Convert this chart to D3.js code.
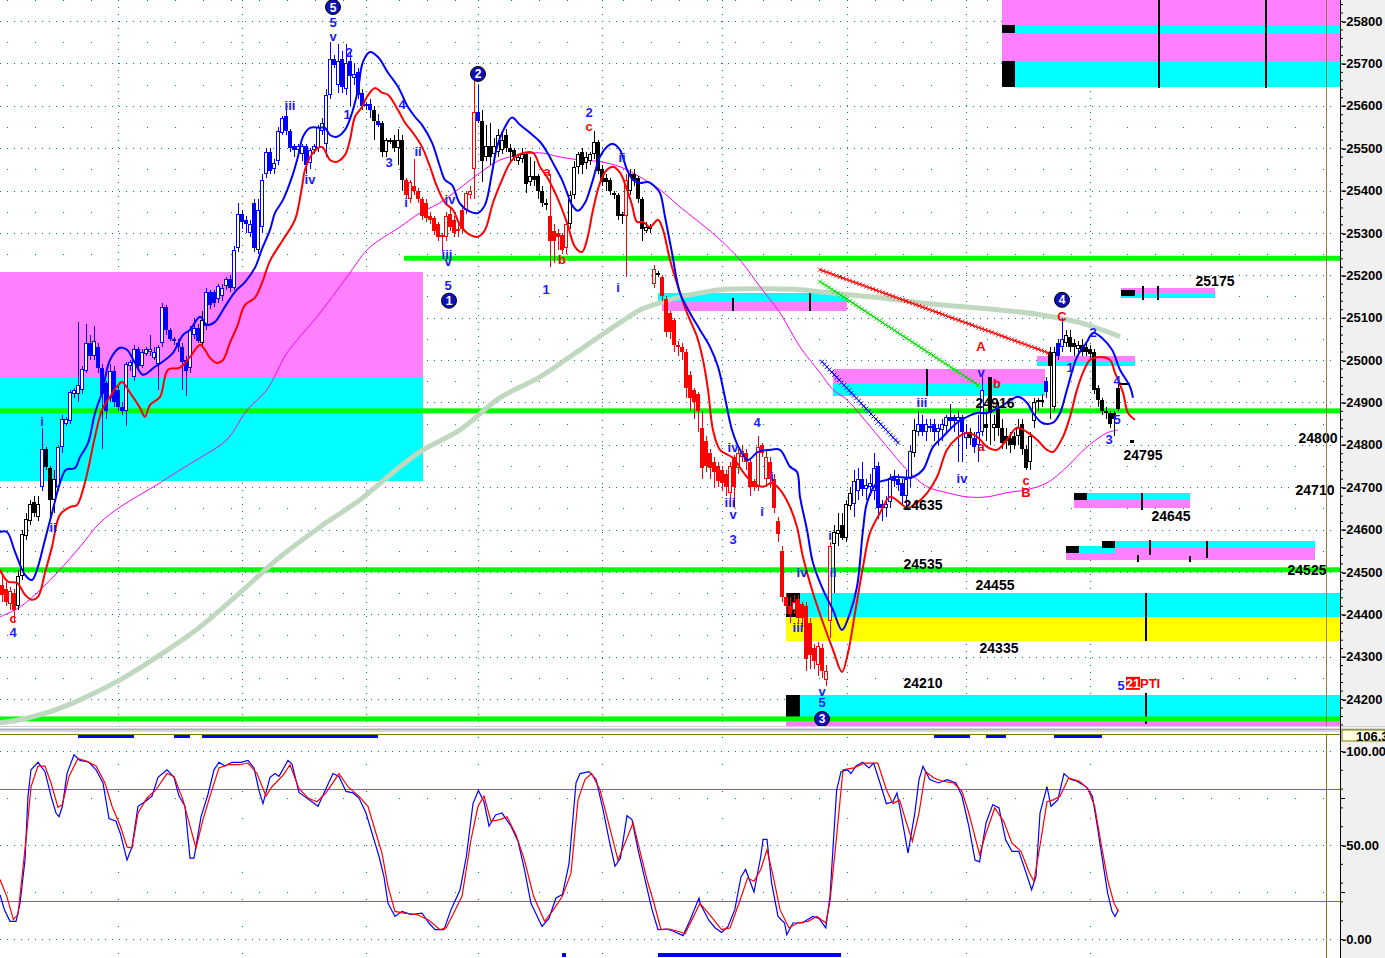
<!DOCTYPE html>
<html><head><meta charset="utf-8">
<script src="https://cdn.jsdelivr.net/npm/d3@7/dist/d3.min.js"></script>
<style>body{margin:0;background:#fff;overflow:hidden}svg{display:block;font-family:"Liberation Sans",Arial,sans-serif}</style>
</head><body><svg id="c" width="1385" height="958"></svg>
<script>
// ---------- DATA ----------
const openP=[24470,24460,24425,24450,24420,24490,24585,24620,24665,24630,
24700,24790,24745,24670,24700,24795,24850,24855,24920,24920,
24930,24975,25040,25010,25030,24980,24945,24910,24975,24930,
24890,24880,24985,24960,25025,24985,25015,25020,25005,24990,
25040,25125,25070,25050,25040,25030,25000,24980,25060,25075,
25040,25080,25160,25160,25145,25150,25175,25190,25170,25265,
25345,25330,25300,25370,25260,25315,25440,25490,25450,25470,
25535,25575,25540,25505,25495,25485,25505,25465,25495,25500,
25540,25510,25625,25710,25650,25710,25640,25705,25665,25680,
25630,25600,25605,25590,25565,25560,25490,25515,25520,25500,
25520,25425,25380,25410,25400,25380,25370,25340,25335,25320,
25295,25290,25345,25330,25310,25355,25355,25390,25450,25585,
25565,25480,25505,25485,25490,25495,25530,25500,25495,25470,
25475,25485,25420,25435,25435,25400,25370,25340,25305,25300,
25295,25265,25320,25390,25455,25490,25465,25470,25485,25515,
25450,25430,25425,25395,25390,25345,25340,25400,25440,25430,
25380,25305,25315,25180,25205,25195,25145,25110,25095,25035,
25030,25020,24965,24930,24920,24840,24810,24780,24760,24750,
24740,24730,24685,24770,24745,24770,24780,24760,24715,24700,
24800,24720,24760,24720,24620,24550,24440,24420,24410,24435,
24425,24420,24380,24320,24280,24320,24245,24385,24565,24590,
24610,24580,24655,24660,24690,24720,24695,24700,24690,24750,
24660,24650,24665,24725,24720,24710,24680,24720,24780,24830,
24850,24830,24840,24850,24830,24835,24845,24865,24865,24855,
24865,24815,24830,24815,24800,24830,24850,24960,24840,24885,
24840,24820,24815,24820,24820,24850,24790,24760,24855,24900,
24900,24950,25020,24890,25040,25030,25040,25055,25040,25025,
25035,25030,25025,25020,24935,24905,24880,24875,24875,24935];
const highP=[24490,24475,24465,24460,24505,24600,24640,24670,24680,24680,
24840,24795,24750,24740,24800,24870,24865,24930,24935,25090,
24985,25085,25060,25080,25040,24990,24950,24990,24985,24940,
24900,24995,25000,25035,25030,25025,25030,25060,25030,25035,
25135,25130,25075,25055,25050,25040,25010,25080,25100,25085,
25115,25170,25165,25165,25180,25180,25195,25200,25270,25370,
25355,25340,25330,25380,25380,25440,25500,25500,25475,25550,
25575,25590,25545,25510,25510,25510,25510,25500,25510,25555,
25570,25640,25750,25720,25745,25730,25745,25725,25700,25690,
25640,25610,25615,25600,25580,25565,25525,25525,25530,25545,
25530,25430,25425,25475,25405,25385,25380,25350,25340,25325,
25300,25350,25360,25340,25320,25365,25400,25410,25660,25650,
25590,25555,25560,25525,25545,25540,25545,25510,25500,25485,
25500,25490,25480,25470,25440,25410,25380,25440,25320,25310,
25300,25330,25400,25470,25490,25500,25490,25490,25540,25520,
25460,25440,25430,25400,25395,25350,25440,25450,25450,25435,
25385,25325,25320,25225,25210,25200,25150,25115,25100,25045,
25040,25025,24975,24935,24925,24880,24820,24790,24770,24760,
24750,24740,24760,24775,24790,24800,24790,24765,24720,24820,
24805,24790,24770,24730,24630,24560,24450,24440,24445,24445,
24430,24430,24390,24330,24335,24330,24280,24570,24610,24640,
24640,24670,24700,24740,24745,24760,24720,24730,24780,24760,
24670,24680,24730,24740,24730,24720,24740,24800,24860,24880,
24870,24860,24860,24860,24850,24860,24870,24895,24870,24880,
24870,24850,24840,24830,24870,24960,24880,24960,24870,24900,
24860,24840,24830,24830,24860,24860,24800,24830,24910,24910,
24920,24960,25030,25030,25050,25100,25070,25070,25050,25045,
25050,25040,25035,25025,24940,24910,24890,24880,24880,24950];
const lowP=[24430,24420,24410,24380,24410,24480,24575,24610,24630,24620,
24690,24740,24630,24640,24690,24780,24845,24850,24910,24900,
24920,24970,25000,25000,24970,24790,24860,24900,24890,24880,
24870,24845,24975,24950,24975,24980,25010,25010,25000,24930,
25030,25060,25045,25035,25020,24930,24915,24970,25050,25040,
25030,25070,25120,25125,25135,25140,25165,25160,25165,25255,
25310,25300,25290,25255,25250,25300,25430,25440,25440,25460,
25530,25530,25490,25480,25490,25470,25440,25450,25485,25490,
25530,25480,25615,25690,25630,25630,25625,25600,25650,25615,
25590,25590,25570,25520,25550,25480,25480,25510,25490,25460,
25400,25380,25370,25390,25370,25330,25325,25320,25295,25280,
25255,25280,25305,25290,25290,25300,25345,25380,25380,25560,
25420,25470,25460,25475,25480,25485,25490,25470,25470,25460,
25465,25395,25410,25410,25380,25360,25355,25220,25230,25260,
25250,25250,25310,25380,25440,25440,25450,25460,25475,25440,
25410,25400,25390,25380,25330,25320,25195,25390,25410,25370,
25280,25300,25300,25170,25195,25140,25055,25050,25020,25010,
25000,24910,24880,24860,24830,24720,24735,24720,24700,24700,
24690,24680,24670,24650,24730,24760,24740,24680,24690,24690,
24770,24700,24700,24640,24570,24430,24400,24380,24400,24380,
24370,24265,24270,24270,24255,24250,24230,24345,24450,24560,
24575,24570,24645,24630,24670,24680,24670,24680,24670,24625,
24620,24630,24650,24700,24690,24660,24650,24700,24770,24820,
24820,24810,24830,24810,24800,24810,24830,24840,24830,24760,
24760,24790,24800,24780,24760,24820,24810,24800,24810,24820,
24790,24790,24780,24790,24800,24775,24740,24740,24840,24880,
24890,24910,24860,24880,25000,25020,25030,25020,25010,25015,
25010,25010,25005,24920,24890,24870,24860,24840,24820,24880];
const closeP=[24445,24430,24455,24410,24490,24590,24625,24660,24640,24660,
24790,24748,24670,24720,24795,24860,24860,24925,24930,24940,
24978,25040,25010,25045,24980,24920,24880,24975,24900,24890,
24880,24990,24995,25025,24985,25020,25025,25025,25020,25030,
25125,25070,25050,25045,25030,24995,24975,25070,25075,25045,
25095,25160,25130,25135,25175,25170,25190,25170,25260,25345,
25325,25320,25320,25265,25355,25425,25490,25445,25465,25540,
25570,25540,25500,25495,25505,25505,25460,25495,25505,25550,
25560,25625,25710,25695,25705,25645,25700,25670,25675,25625,
25600,25605,25590,25565,25555,25490,25520,25520,25500,25520,
25425,25390,25420,25400,25380,25340,25335,25330,25305,25290,
25290,25340,25315,25300,25305,25310,25395,25400,25585,25565,
25470,25505,25480,25505,25530,25520,25500,25490,25480,25480,
25485,25415,25435,25425,25400,25370,25365,25280,25280,25290,
25260,25320,25390,25455,25485,25460,25480,25485,25515,25445,
25420,25420,25400,25390,25340,25340,25425,25440,25425,25380,
25310,25315,25310,25215,25200,25150,25065,25065,25035,25030,
25020,24935,24910,24900,24880,24745,24750,24745,24735,24715,
24710,24700,24750,24700,24780,24785,24760,24700,24700,24795,
24780,24770,24720,24650,24590,24440,24420,24400,24430,24390,
24390,24295,24305,24290,24325,24265,24265,24560,24595,24600,
24580,24660,24685,24715,24720,24695,24705,24710,24745,24650,
24650,24660,24720,24715,24705,24680,24720,24785,24835,24850,
24830,24850,24845,24830,24840,24850,24865,24855,24855,24865,
24830,24830,24815,24795,24830,24930,24840,24875,24850,24840,
24805,24810,24800,24800,24840,24790,24745,24820,24900,24905,
24905,24925,24985,25020,25010,25050,25060,25030,25030,25035,
25020,25020,25015,24930,24905,24880,24875,24850,24860,24885];
// candle colour runs: b = up trend (blue), k = neutral (black), r = down trend (red)
const toneRuns="r4 k6 b1 k3 b36 k1 b42 k1 b1 k6 r18 b1 k17 r5 k14 r1 k6 r1 k1 r43 k5 b15 k1 b13 k1 b3 k15 b1 k2 b2 k14";

// moving averages: [bar, price]
const blueMA=[[0,24594],[1.75,24594],[3.75,24547],[6.25,24493],[8,24481],[9.25,24505],[11.25,24576],[13,24639],[15,24710],[16.5,24741],[18.75,24745],[20,24771],[22,24804],[23.75,24875],[25.5,24923],[27.5,25000],[30,25029],[31.75,25024],[33.75,24993],[35.75,24965],[38.75,24984],[41.25,25000],[43.25,25017],[45.75,25059],[47.5,25071],[50,25102],[51.75,25083],[53.75,25090],[56.25,25126],[58.75,25161],[61.25,25184],[63.75,25218],[65.5,25262],[67.5,25307],[68.75,25347],[70.75,25378],[73,25432],[74.5,25480],[75.75,25527],[77.5,25548],[80,25548],[81.25,25548],[82.5,25531],[84.25,25527],[86.25,25543],[88,25583],[89.5,25638],[90.75,25704],[92.5,25727],[94.5,25715],[97,25678],[99.5,25645],[102,25597],[103.75,25574],[105.5,25555],[108,25513],[110,25456],[111.25,25425],[113,25413],[115,25369],[117.5,25350],[119.5,25347],[121.25,25366],[123,25442],[124.25,25503],[126.25,25550],[128,25572],[130,25555],[132.5,25536],[135,25515],[136.75,25491],[138.75,25456],[140.5,25425],[141.75,25395],[143,25366],[144.5,25352],[146.25,25371],[148,25418],[150,25480],[151.75,25503],[153.25,25510],[155,25496],[156.75,25449],[158.25,25425],[160,25418],[162,25420],[163.75,25409],[165,25394],[166.25,25338],[168,25253],[170,25158],[172.5,25111],[175,25071],[177.5,25031],[179.5,24984],[181.25,24911],[183,24835],[185,24788],[187,24764],[189.5,24783],[192.5,24788],[195,24788],[197.5,24748],[199.25,24736],[200,24677],[201.75,24599],[203.25,24521],[205.75,24458],[208.25,24410],[210.5,24363],[212.5,24403],[214.25,24465],[215.75,24599],[216.75,24663],[219.25,24710],[221.75,24717],[223.25,24724],[226.75,24722],[228.25,24724],[230.75,24741],[233.25,24795],[235.75,24819],[239.25,24852],[241.75,24866],[244.25,24875],[246.75,24875],[250,24889],[254.5,24913],[256.75,24899],[258.25,24875],[260.5,24852],[263.25,24852],[265,24875],[266.75,24930],[269.25,25007],[271.75,25043],[273.25,25064],[275.5,25052],[278,25024],[280,24977],[282.5,24937],[283.25,24911]];
const redMA=[[0,24505],[2,24477],[4.25,24474],[6.25,24446],[8,24434],[9.5,24441],[11.25,24498],[13,24559],[15,24635],[17.5,24653],[19.25,24658],[20.75,24694],[22,24741],[23.75,24819],[25.5,24882],[27.5,24913],[29.25,24937],[30.5,24948],[32.5,24923],[35,24887],[36.25,24866],[37.5,24894],[40,24913],[42,24977],[45,24982],[47.5,25007],[50,25036],[51.25,25024],[52.5,25005],[54.25,24993],[55.75,25000],[57.5,25041],[59.25,25078],[61.25,25130],[63.75,25147],[65.5,25182],[67.5,25234],[70.75,25284],[73.75,25331],[75.5,25409],[76.25,25449],[78.25,25489],[80.5,25503],[82.5,25472],[84.25,25468],[86.25,25484],[87.5,25520],[88.75,25574],[90.5,25597],[91.75,25621],[93.75,25642],[95.5,25631],[97,25626],[99.5,25590],[101.25,25560],[103.25,25536],[105.5,25503],[107.5,25456],[109.25,25409],[111.25,25371],[113.25,25354],[115,25319],[117.5,25295],[119.5,25291],[121.25,25307],[123.25,25371],[125.5,25425],[127.5,25465],[129.5,25484],[133.25,25489],[135,25456],[136.75,25432],[139.25,25385],[141.75,25324],[143.75,25267],[145.5,25255],[146.75,25284],[148.25,25354],[150,25418],[151.75,25449],[153.25,25456],[155,25442],[156.75,25402],[158,25366],[159.25,25326],[160.75,25326],[162.5,25314],[164.5,25331],[165.75,25307],[167.5,25236],[169.5,25173],[171.75,25111],[174.25,25055],[175.75,25000],[177,24930],[178.25,24835],[180,24788],[183.25,24769],[185.75,24736],[188.25,24710],[190.75,24701],[193,24710],[195,24694],[197.5,24653],[199.25,24606],[200.75,24535],[203.25,24450],[205.75,24380],[208.25,24316],[210.5,24264],[212,24309],[213.75,24403],[215.75,24512],[217.5,24592],[220,24639],[222.5,24677],[225,24663],[226.75,24651],[229.25,24663],[231.75,24686],[234.25,24724],[236.75,24788],[239.25,24816],[241.75,24828],[244.25,24819],[246.75,24795],[249.25,24788],[251.75,24812],[254.25,24840],[256.75,24830],[259.25,24812],[261.75,24788],[263.25,24783],[265.75,24819],[267.5,24866],[269.25,24930],[270.75,24970],[272.5,25000],[275,25007],[277.5,25000],[278.75,24970],[280.75,24923],[282,24875],[283.75,24859]];
const magentaMA=[[0,24394],[5,24417],[10,24457],[15,24505],[20,24559],[25,24616],[30,24653],[35,24682],[40,24710],[44.25,24736],[50,24769],[56.75,24812],[61.75,24882],[66.75,24930],[71.75,25017],[79.25,25102],[86.75,25196],[91.75,25260],[95,25284],[100,25314],[105,25347],[110,25371],[115,25406],[120,25442],[125,25472],[130,25484],[135,25489],[140,25479],[145,25472],[150,25468],[155,25456],[160,25432],[165,25402],[170,25361],[175,25324],[180,25284],[185,25236],[190,25173],[195,25111],[200,25031],[205,24970],[208.25,24930],[211.75,24906],[216.75,24852],[221.75,24795],[226.75,24741],[231.75,24701],[236.75,24687],[241.75,24677],[246.75,24677],[251.75,24687],[256.75,24694],[261.75,24710],[266.75,24748],[271.75,24795],[276.75,24828],[279.5,24835]];
const grayMA=[[0,24144],[5,24151],[12.5,24170],[20,24198],[30,24245],[40,24304],[50,24370],[60,24451],[70,24535],[80,24606],[90,24670],[100,24748],[105.75,24788],[115,24835],[125,24911],[135,24960],[145,25024],[155,25088],[160,25118],[165,25135],[170,25149],[175,25158],[180,25166],[190,25168],[200,25166],[210,25156],[220,25147],[230,25135],[240,25126],[250,25118],[260,25107],[270,25088],[280,25055]];

// stochastic %K (blue) and %D (red): [bar, value]
const stochK=[[0,23.6],[1.1,15.6],[2.5,9.4],[4,9.4],[5,19],[6.25,42],[7,76],[7.75,90],[9.5,94],[11.25,89],[12.75,76],[14,67],[14.75,65],[15.6,70.6],[16.75,88],[18.5,98],[20,95],[22.25,94],[24,90],[25.75,83],[27.25,64],[29,62.6],[30.1,56],[31.75,42],[33,49],[34.5,70.6],[36.25,73],[38,76],[39.5,86],[41.75,90],[43.5,86],[44.75,76],[46.25,70.6],[47.5,43],[48.5,43],[50.25,65],[52,77],[53.5,90],[54.75,94],[56.25,92],[58,94],[60.25,94],[62,95],[63.5,91],[64.75,79],[65.75,72],[67.5,86],[68.75,88],[69.75,86.5],[72,95],[73,93],[74.75,78],[76,76],[78,73],[79.5,70.6],[81,77.7],[83.25,88],[84.75,86.5],[86.5,78.5],[88.25,77.7],[89.75,75],[91.5,67],[93.25,54.6],[94.75,44],[96,33],[97,19],[98.75,12],[100.5,14.7],[102.75,13],[105.5,13.8],[107.25,8.5],[108.75,5],[111,5],[112.75,15.6],[115,26],[116.6,44],[118.25,72],[119.6,79],[121,73],[122.25,60],[123.9,66],[125.5,67],[127.75,60],[129.5,52],[131.1,37],[132.75,19],[135.5,6.7],[137.25,11],[139,21.8],[140.6,23.6],[142.25,40],[144,83],[145,88],[147.25,89],[149,85],[150.75,69],[152.25,53],[153.75,38.7],[155.1,43],[156.75,65.6],[158,63.5],[159.5,47.5],[161.25,31.6],[163,15.6],[164.5,5],[166.75,5.3],[168.5,4],[170.75,1.8],[172.5,10],[174.75,21.8],[175,19],[177.2,10],[178.75,6],[180.4,3.5],[182,6.7],[183.7,15.6],[185.25,33],[186.4,37],[187.5,30.7],[188.5,25],[190.2,44],[190.75,53],[191.75,53],[192.9,29.8],[194.5,12],[196.15,8.5],[196.7,2.3],[198.25,8.5],[200.5,8.5],[203.2,12],[204.75,11],[206.45,5.9],[207.5,22.7],[209.15,79],[210.25,89],[211.85,90],[212.75,88],[214,92],[215.65,94],[217.25,91],[218.4,93.6],[220,83],[221.6,72],[223.25,73],[224.25,77.7],[225.4,65],[227,45.7],[228.7,67],[229.75,84.8],[230.75,91.8],[232.45,84.8],[234.6,83],[236.75,84.8],[239,83],[240.5,75.9],[242.2,60],[243.75,42],[244.9,41],[246.5,61.7],[248.2,71.5],[249.75,69.7],[251.4,52.8],[253,46.6],[254.7,46.6],[256.25,36.9],[257.9,26.2],[259,33.3],[260,67],[261.75,81],[262.75,70.6],[264.45,74],[266,88],[267.7,84.8],[269.25,83.9],[271.5,81],[273.1,75.9],[274.2,61.7],[275.75,40.4],[276.9,24.5],[278,14.7],[278.75,12],[279.6,15.6]];
const stochD=[[0,31.6],[1.7,22.7],[3.35,10.3],[4.5,13],[5.5,33],[6.75,58],[7.75,81],[9.5,92],[11.25,92],[12.75,83],[14.5,70],[15.6,71.5],[17.25,86.5],[19.5,96],[21.75,94.5],[24,92],[26.25,83],[28,70.6],[30.1,60],[31.75,49],[33,48.4],[34.5,67],[36.75,75],[39,79.4],[41.75,88],[43.5,86.5],[45.75,74],[47.5,60],[49,48.4],[50.75,63.5],[52.5,76],[54.75,91],[57,92.7],[59.75,92.7],[62,93.6],[64.25,88],[66.5,76],[68,81],[70.9,87.4],[72.5,92.7],[74.75,80],[77,75],[79.25,73],[81.5,77.7],[84.75,88],[87,81],[89.75,75.9],[92,70.6],[93.75,58],[95.5,45.7],[97,28],[98.75,14.7],[101,13.8],[104.25,13],[107.25,10],[110,5],[111.5,5.9],[113.25,13],[115.5,22.7],[117.75,52.8],[119.5,70.6],[121,76],[122.75,62.6],[125,63.5],[126.75,65],[129,55.5],[131.1,42],[133.4,22.7],[136.15,9.4],[138.4,15.6],[140.6,22.7],[142.75,35],[144.5,74],[146.25,84.8],[147.9,88],[150,79.4],[151.75,65],[154.5,42],[156.25,51],[158.25,61.7],[159.5,51],[161.75,31.6],[163.5,19],[165.25,5],[167.4,5.3],[169.65,4],[171.25,2.8],[173,10.3],[175,19],[177.75,12],[180.4,5],[182.5,5.9],[184.75,19],[186.9,32.4],[188.5,30.7],[190.2,37],[191.75,47.5],[193.4,32.4],[195,15.6],[197.25,5.9],[199.4,8.5],[202,9.4],[204.25,12],[206.45,8.5],[207.5,20],[209.15,54.6],[210.75,90],[213.5,91],[216.2,93.6],[219.45,93.6],[221.6,79.4],[223.25,72],[224.9,74],[226.5,62.6],[228.1,52],[229.75,67],[231.4,89],[233.5,85.6],[235.7,83.9],[238.4,83],[240.5,78.5],[242.2,67],[244.9,44.9],[246.5,56.4],[248.7,69.7],[250.9,62.6],[253,51],[255.25,46.6],[257.4,35],[258.5,30.7],[260.1,51],[261.75,73],[263.35,74],[265,75.9],[267.15,85.6],[269.85,83.9],[272,80],[273.65,70.6],[275.25,51],[276.9,31.6],[278.5,19],[279.6,14.7]];

// horizontal support/resistance levels (green)
const greenLevel=[25240,24880,24505,24153];
const greenFrom=[101,0,0,0];

// zones: bar start, bar end, upper price, lower price, kind (m=magenta c=cyan y=yellow)
const zoneStart=[0,0,250.5,250.5,250.5,250.5,164.5,165.4,208.25,208.25,259.25,259.25,280.25,280.25,268.5,268.5,278.75,278.75,269.75,266.5,196.5,196.5,196.5,196.5];
const zoneEnd=[105.75,105.75,335,335,335,335,211.75,211.75,261.25,261.25,283.75,283.75,303.75,303.75,297.5,297.5,328.75,328.75,278.75,278.75,335,335,335,335];
const zoneHigh=[25208,24960,25850,25791,25772,25706,25158,25137,24979,24944,25010,24996,25170,25158,24687,24670,24573,24557,24561,24545,24450,24394,24210,24151];
const zoneLow=[24960,24715,25791,25772,25706,25645,25137,25116,24944,24915,24996,24986,25158,25147,24670,24651,24557,24528,24545,24528,24394,24337,24156,24137];
const zoneKind="mcmcmccmmcmcmccmcmcmcycm";

// black markers: bar start, bar end, upper, lower
const markStart=[250.5,250.5,280.25,268.5,266.5,275.5,196.5,196.5,282.5,280];
const markEnd=[253.75,253.75,283.75,271.75,269.75,278.75,200,200,283.5,282.5];
const markHigh=[25791,25706,25165,24687,24561,24573,24450,24210,24812,24946];
const markLow=[25772,25645,25150,24670,24545,24557,24394,24156,24805,24941];

// black vertical ticks: bar, upper, lower
const tickBar=[289.75,316.5,183.25,202.5,231.75,285.75,289.5,285.5,284.5,287.5,297.5,301.75,286.5,286.5];
const tickHigh=[25850,25850,25147,25158,24979,25175,25175,24687,24540,24576,24538,24573,24450,24214];
const tickLow=[25642,25642,25116,25116,24915,25141,25141,24647,24524,24540,24524,24533,24337,24140];

// hatched trend lines
const trendFrom=[[205,25213],[205,25185],[205.5,24996]];
const trendTo=[[262,25017],[244.5,24941],[224.5,24805]];
const trendTone="rgb";

// Elliott wave labels
const waveText=["5","v","2","1","iii","iv","3","4","ii","i","iv","iii","v","5","i","ii","4","2","1","i","ii","iv","4","i","i","iii","v","3","iv","ii","i","iii","v","5","iii","iv","v","1","2","4","5","3","5",
"c","a","b","c","A","b","a","c","B","C"];
const waveBar=[83.25,83.25,87.25,86.75,72.5,77.5,97.25,100.5,104.5,101.5,112.5,111.75,112,112,10.5,13.25,3.25,147.25,136.5,154.5,155.5,183.25,189.25,193,190.5,182.5,183.25,183.25,200.5,208.25,207.5,199.5,205.5,205.5,230.5,240.5,245.25,267.5,273.25,279.25,279.25,277.25,280.25,
3.25,136.75,140.5,147.25,245.25,249.25,245.25,256.5,256.5,265.5];
const wavePrice=[25796,25763,25725,25579,25600,25425,25465,25602,25491,25371,25378,25248,25232,25175,24854,24604,24358,25583,25166,25170,25479,24793,24852,24724,24642,24663,24635,24576,24498,24498,24587,24368,24217,24191,24899,24720,24970,24982,25064,24951,24859,24812,24231,
24389,25444,25236,25550,25033,24944,24795,24715,24687,25102];
const waveTone="bbbbbbbbbbbbbbbbbbbbbbbbbbbbbbbbbbbbbbbbbbbrrrrrrrrrr";

// circled wave degree labels
const circleText=["5","2","1","3","4"];
const circleBar=[83.25,119.5,112.25,205.5,265.5];
const circlePrice=[25833,25675,25140,24153,25142];

// price level labels
const levelValue=[25175,24800,24795,24916,24710,24645,24635,24535,24525,24455,24335,24210];
const levelBar=[303.75,329.5,285.75,248.75,328.75,292.75,230.75,230.75,326.75,248.75,249.75,230.75];
const levelPrice=[25187,24816,24776,24899,24694,24632,24658,24519,24505,24469,24321,24238];

// indicator signal bars (bar start, bar end)
const sigTop=[[19.5,33.5],[43.5,47.5],[50.5,94.5],[233.5,242.5],[246.5,251.5],[263.5,275.5]];
const sigBottom=[[140.5,141.5],[164.5,210.25]];

const monthBars=[29.5,60.5,91.5,119.5,150.5,180.5,211.75,241.5,272.5];
const priceTicks=d3.range(24200,25801,100);
const stochTicks=[0,50,100];

// ---------- DRAW ----------
const svg=d3.select("#c");
const x=d3.scaleLinear().domain([0,335]).range([0,1340]);
const y=d3.scaleLinear().domain([24200,25800]).range([699,21]);
const ys=d3.scaleLinear().domain([0,100]).range([939,751]);
const TONE={b:"#0000ff",k:"#000000",r:"#ff0000",g:"#00e000"};
const ZONE={m:"#ff80ff",c:"#00ffff",y:"#ffff00"};
const tones=[];toneRuns.split(" ").forEach(s=>{for(let i=0;i<+s.slice(1);i++)tones.push(s[0]);});

const defs=svg.append("defs");
defs.append("clipPath").attr("id","cu").append("rect").attr("x",0).attr("y",0).attr("width",1340).attr("height",726);
defs.append("clipPath").attr("id","cl").append("rect").attr("x",0).attr("y",735).attr("width",1340).attr("height",223);
defs.append("clipPath").attr("id","ca").append("rect").attr("x",1341).attr("y",0).attr("width",44).attr("height",958);

svg.append("rect").attr("width",1385).attr("height",958).attr("fill","#fff");
svg.append("rect").attr("x",1341).attr("y",0).attr("width",44).attr("height",958).attr("fill","#f0f0f0");

const up=svg.append("g").attr("clip-path","url(#cu)");
const lo=svg.append("g").attr("clip-path","url(#cl)");
const TEAL="#008080";

// grid upper
const gridU=up.append("g").attr("shape-rendering","crispEdges");
priceTicks.forEach(p=>gridU.append("line").attr("x1",0).attr("x2",1335).attr("y1",Math.round(y(p))+0.5).attr("y2",Math.round(y(p))+0.5).attr("stroke",TEAL).attr("stroke-dasharray","1,6"));
monthBars.forEach(t=>gridU.append("line").attr("x1",Math.round(x(t))+0.5).attr("x2",Math.round(x(t))+0.5).attr("y1",0).attr("y2",726).attr("stroke",TEAL).attr("stroke-dasharray","1,6"));
const minorX=d3.range(6.7,1335,28).filter(px=>monthBars.every(t=>Math.abs(x(t)-px)>10));
d3.range(24150,25851,100).forEach(p=>minorX.forEach(px=>gridU.append("rect").attr("x",Math.round(px)).attr("y",Math.round(y(p))).attr("width",1).attr("height",1).attr("fill",TEAL)));

// zones
const gZ=up.append("g").attr("shape-rendering","crispEdges");
zoneStart.forEach((s,i)=>gZ.append("rect").attr("x",x(s)).attr("width",x(zoneEnd[i])-x(s)).attr("y",y(zoneHigh[i])).attr("height",y(zoneLow[i])-y(zoneHigh[i])).attr("fill",ZONE[zoneKind[i]]));
markStart.forEach((s,i)=>gZ.append("rect").attr("x",x(s)).attr("width",x(markEnd[i])-x(s)).attr("y",y(markHigh[i])).attr("height",y(markLow[i])-y(markHigh[i])).attr("fill","#000"));
tickBar.forEach((t,i)=>gZ.append("rect").attr("x",Math.round(x(t))-1).attr("width",2).attr("y",y(tickHigh[i])).attr("height",y(tickLow[i])-y(tickHigh[i])).attr("fill","#000"));

// green levels
greenLevel.forEach((p,i)=>up.append("rect").attr("x",x(greenFrom[i])).attr("width",1340-x(greenFrom[i])).attr("y",y(p)-2.5).attr("height",5).attr("fill","#00ff00"));

// long MAs
const ln=d3.line().x(d=>x(d[0])).y(d=>y(d[1])).curve(d3.curveCatmullRom.alpha(0.5));
up.append("path").attr("d",ln(grayMA)).attr("fill","none").attr("stroke","#c0d8c0").attr("stroke-width",5);
up.append("path").attr("d",ln(magentaMA)).attr("fill","none").attr("stroke","#ff00ff").attr("stroke-width",1);

// candles
const gC=up.append("g").attr("shape-rendering","crispEdges");
closeP.forEach((c,i)=>{
  const cx=Math.round(x(i+0.5));
  const col=TONE[tones[i]];
  const o=openP[i];
  gC.append("line").attr("x1",cx+0.5).attr("x2",cx+0.5).attr("y1",y(highP[i])).attr("y2",y(lowP[i])).attr("stroke",col);
  const top=Math.round(y(Math.max(o,c))),bot=Math.round(y(Math.min(o,c)));
  const h=Math.max(1,bot-top);
  if(c>o) gC.append("rect").attr("x",cx-1.5).attr("y",top+0.5).attr("width",3).attr("height",Math.max(0,h-1)).attr("fill","#fff").attr("stroke",col);
  else gC.append("rect").attr("x",cx-2).attr("y",top).attr("width",4).attr("height",h).attr("fill",col);
});

// short MAs
up.append("path").attr("d",ln(redMA)).attr("fill","none").attr("stroke","#ff0000").attr("stroke-width",2);
up.append("path").attr("d",ln(blueMA)).attr("fill","none").attr("stroke","#0000ff").attr("stroke-width",2);

// hatched trend lines
trendFrom.forEach((a,i)=>{
  const b=trendTo[i],col=TONE[trendTone[i]];
  const x0=x(a[0]),y0=y(a[1]),x1=x(b[0]),y1=y(b[1]);
  up.append("line").attr("x1",x0).attr("y1",y0).attr("x2",x1).attr("y2",y1).attr("stroke",col).attr("stroke-width",1);
  const len=Math.hypot(x1-x0,y1-y0),n=Math.floor(len/3.5);
  const g=up.append("g").attr("stroke",col).attr("stroke-width",1);
  for(let k=0;k<=n;k++){const px=x0+(x1-x0)*k/n,py=y0+(y1-y0)*k/n;
    g.append("path").attr("d",`M${px-2},${py-2}L${px+2},${py+2}M${px-2},${py+2}L${px+2},${py-2}`);}
});

// wave labels
const gL=svg.append("g").attr("font-weight","bold").attr("font-size",13).attr("text-anchor","middle").attr("dominant-baseline","central");
waveText.forEach((s,i)=>gL.append("text").attr("x",x(waveBar[i])).attr("y",y(wavePrice[i])).attr("fill",waveTone[i]==="b"?"#1a1aff":"#ff0000").text(s));
circleText.forEach((s,i)=>{
  const cx=x(circleBar[i]),cy=y(circlePrice[i]);
  gL.append("circle").attr("cx",cx).attr("cy",cy).attr("r",7.5).attr("fill","#1010b8").attr("stroke","#000").attr("stroke-width",1);
  gL.append("text").attr("x",cx).attr("y",cy+0.5).attr("fill","#fff").attr("font-size",12).text(s);
});
levelValue.forEach((v,i)=>gL.append("text").attr("x",x(levelBar[i])).attr("y",y(levelPrice[i])).attr("fill","#000").attr("font-size",14).text(String(v)));
// PTI tag
const ptiX=x(281.5),ptiY=y(24237);
svg.append("rect").attr("x",ptiX).attr("y",ptiY-6.5).attr("width",14).attr("height",13).attr("fill","#ff0000");
svg.append("text").attr("x",ptiX+7).attr("y",ptiY+5).attr("text-anchor","middle").attr("font-weight","bold").attr("font-size",13).attr("fill","#fff").text("21");
svg.append("text").attr("x",ptiX+14).attr("y",ptiY+5).attr("font-weight","bold").attr("font-size",13).attr("fill","#ff0000").text("PTI");

// panel separators
svg.append("line").attr("x1",0).attr("x2",1385).attr("y1",726.5).attr("y2",726.5).attr("stroke","#d0d0d0");
svg.append("rect").attr("x",0).attr("y",728).attr("width",1385).attr("height",4).attr("fill","#d8d8d8");
svg.append("line").attr("x1",0).attr("x2",1385).attr("y1",729.5).attr("y2",729.5).attr("stroke","#a8a8a8");

// lower panel grid
const gridL=lo.append("g").attr("shape-rendering","crispEdges");
stochTicks.forEach(v=>gridL.append("line").attr("x1",0).attr("x2",1335).attr("y1",Math.round(ys(v))+0.5).attr("y2",Math.round(ys(v))+0.5).attr("stroke",TEAL).attr("stroke-dasharray","1,6"));
monthBars.forEach(t=>gridL.append("line").attr("x1",Math.round(x(t))+0.5).attr("x2",Math.round(x(t))+0.5).attr("y1",737).attr("y2",958).attr("stroke",TEAL).attr("stroke-dasharray","1,26"));
[25,75].forEach(v=>minorX.forEach(px=>gridL.append("rect").attr("x",Math.round(px)).attr("y",Math.round(ys(v))).attr("width",1).attr("height",1).attr("fill",TEAL)));
[20,80].forEach(v=>lo.append("line").attr("x1",0).attr("x2",1340).attr("y1",Math.round(ys(v))+0.5).attr("y2",Math.round(ys(v))+0.5).attr("stroke","#808000"));
svg.append("line").attr("x1",0).attr("x2",1340).attr("y1",734.5).attr("y2",734.5).attr("stroke","#808000");
svg.append("line").attr("x1",1326.5).attr("x2",1326.5).attr("y1",0).attr("y2",726).attr("stroke","#a07830");
svg.append("line").attr("x1",1326.5).attr("x2",1326.5).attr("y1",734).attr("y2",958).attr("stroke","#808000");

// stochastic
const ls=d3.line().x(d=>x(d[0])).y(d=>ys(d[1]));
lo.append("path").attr("d",ls(stochK)).attr("fill","none").attr("stroke","#0000ff").attr("stroke-width",1.2);
lo.append("path").attr("d",ls(stochD)).attr("fill","none").attr("stroke","#ff0000").attr("stroke-width",1.2);
sigTop.forEach(s=>lo.append("rect").attr("x",x(s[0])).attr("width",x(s[1])-x(s[0])).attr("y",735).attr("height",3).attr("fill","#0000ff"));
sigBottom.forEach(s=>lo.append("rect").attr("x",x(s[0])).attr("width",x(s[1])-x(s[0])).attr("y",953).attr("height",4).attr("fill","#0000ff"));

// axes
svg.append("line").attr("x1",1340.5).attr("x2",1340.5).attr("y1",0).attr("y2",958).attr("stroke","#000");
const ax=svg.append("g").attr("clip-path","url(#ca)").append("g").attr("transform","translate(1341,0)");
ax.call(d3.axisRight(y).tickValues(priceTicks).tickSize(0).tickPadding(1).tickFormat(d=>"-"+d));
ax.selectAll(".domain").remove();
ax.selectAll("text").attr("font-size",13).attr("font-weight","bold").attr("fill","#000").attr("font-family","Liberation Sans, Arial, sans-serif");
const axm=svg.append("g").attr("transform","translate(1341,0)");
axm.call(d3.axisRight(y).tickValues(d3.range(24140,25850,20)).tickSize(2).tickFormat(""));
axm.selectAll(".domain").remove();
axm.selectAll("line").attr("stroke","#000");

const ax2=svg.append("g").attr("clip-path","url(#ca)").append("g").attr("transform","translate(1341,0)");
ax2.call(d3.axisRight(ys).tickValues(stochTicks).tickSize(0).tickPadding(1).tickFormat(d=>"-"+d.toFixed(2)));
ax2.selectAll(".domain").remove();
ax2.selectAll("text").attr("font-size",13).attr("font-weight","bold").attr("fill","#000").attr("font-family","Liberation Sans, Arial, sans-serif");
const ax2m=svg.append("g").attr("transform","translate(1341,0)");
ax2m.call(d3.axisRight(ys).tickValues(d3.range(0,101,10)).tickSize(2).tickFormat(""));
ax2m.selectAll(".domain").remove();
const ax2n=svg.append("g").attr("transform","translate(1341,0)");
ax2n.call(d3.axisRight(ys).tickValues([25,75]).tickSize(4).tickFormat(""));
ax2n.selectAll(".domain").remove();

// current value tag in the lower axis
const tagG=svg.append("g").attr("clip-path","url(#ca)");
tagG.append("rect").attr("x",1342).attr("y",730).attr("width",43).attr("height",11).attr("fill","#ffffe0").attr("stroke","#808000");
tagG.append("text").attr("x",1356).attr("y",741).attr("font-size",13).attr("font-weight","bold").attr("fill","#000").text("106.3");
</script></body></html>
